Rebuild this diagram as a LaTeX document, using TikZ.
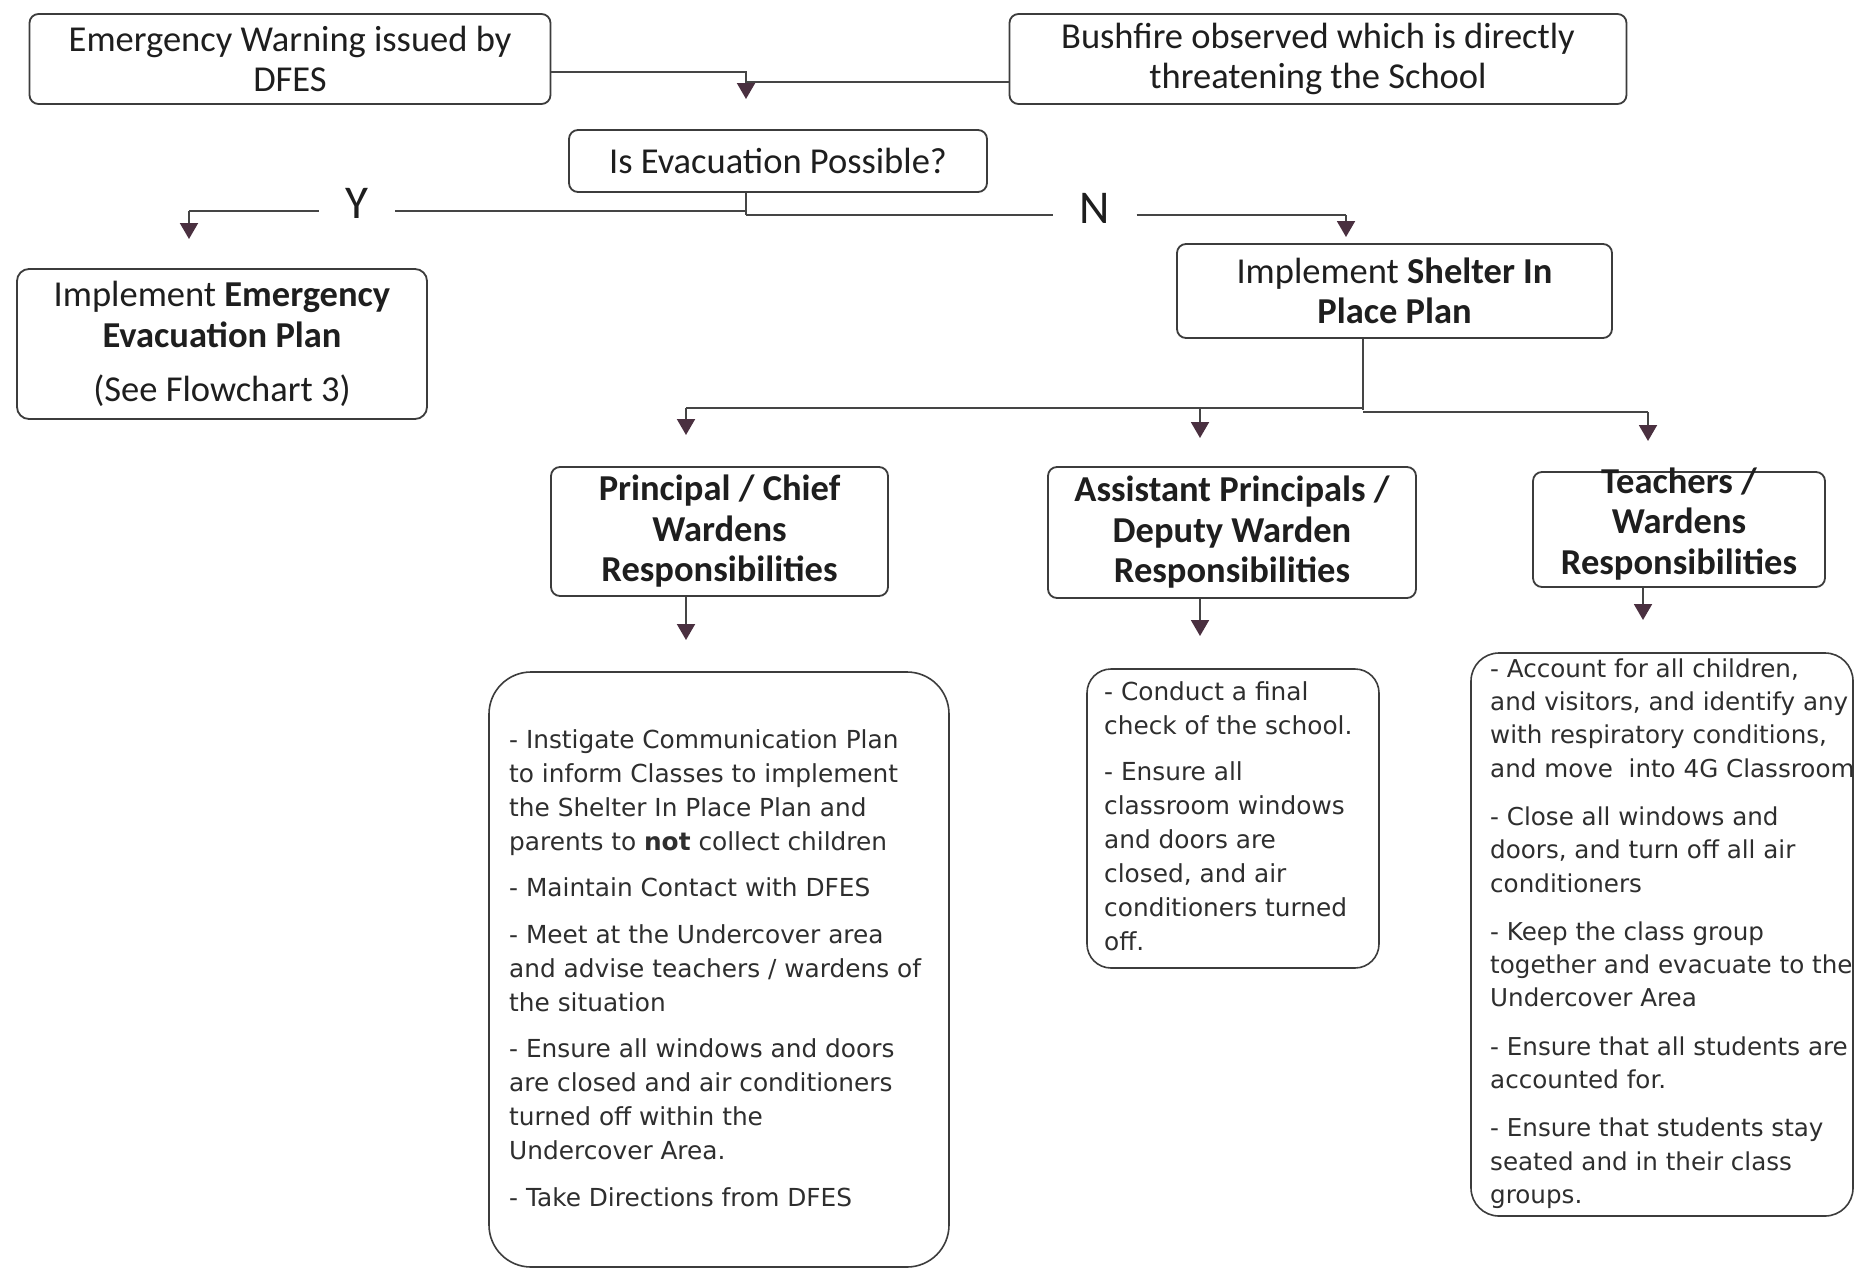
\documentclass[tikz,border=0pt]{standalone}
\usepackage{fontspec}
\setmainfont{Carlito}
\newfontfamily\bodyfont{DejaVu Sans}
\usetikzlibrary{arrows.meta}
\definecolor{boxc}{HTML}{3C3C3C}
\definecolor{linec}{HTML}{454545}
\definecolor{tipc}{HTML}{4A3040}
\definecolor{txtc}{HTML}{1E1E1E}
\definecolor{bodyc}{HTML}{2E2E2E}
\begin{document}
\begin{tikzpicture}[x=1pt,y=-1pt,
  box/.style={draw=boxc, line width=1.8pt, rounded corners=9pt, inner sep=0pt, align=center, text=txtc},
  tfont/.style={font=\fontsize{36.5}{40.5}\selectfont},
  hfont/.style={font=\bfseries\fontsize{36.5}{40.5}\selectfont},
  bodybox/.style={draw=boxc, line width=1.6pt, inner sep=0pt},
  btext/.style={inner sep=0pt, align=left, anchor=north west, text=bodyc, font=\bodyfont\fontsize{24.8}{34}\selectfont},
  btextk/.style={btext, font=\bodyfont\fontsize{24.6}{33.3}\selectfont},
  yn/.style={font=\fontsize{47}{50}\selectfont, inner sep=0pt, text=txtc},
  conn/.style={draw=linec, line width=2pt},
  arr/.style={conn, -{Triangle[width=18pt,length=16pt,color=tipc]}}
]
\useasboundingbox[fill=white] (0,0) rectangle (1856,1269);

% top boxes
\node[box, tfont, minimum width=521pt, minimum height=90pt] (A) at (290,59)
  {Emergency Warning issued by\\DFES};
\node[box, tfont, minimum width=617pt, minimum height=90pt] (B) at (1318,59)
  {Bushfire observed which is directly\\threatening the School};
\node[box, tfont, minimum width=418pt, minimum height=62pt] (C) at (778,161)
  {Is Evacuation Possible?};
\node[box, tfont, minimum width=435pt, minimum height=94pt] (D) at (1394.5,291)
  {Implement \textbf{Shelter In}\\\textbf{Place Plan}};
\node[box, tfont, minimum width=410pt, minimum height=150pt, rounded corners=12pt] (E) at (222,344)
  {Implement \textbf{Emergency}\\\textbf{Evacuation Plan}\\[14pt](See Flowchart 3)};

% role boxes
\node[box, hfont, minimum width=337pt, minimum height=129pt] (F) at (719.5,531.5)
  {Principal / Chief\\Wardens\\Responsibilities};
\node[box, hfont, minimum width=368pt, minimum height=131pt] (G) at (1232,532.5)
  {Assistant Principals /\\Deputy Warden\\Responsibilities};
\node[box, minimum width=292pt, minimum height=115pt] (H) at (1679,529.5) {};
\node[hfont, align=center, inner sep=0pt, text=txtc] (Ht) at (1679,524)
  {Teachers /\\Wardens\\Responsibilities};

% Y / N labels
\node[yn, minimum width=76pt] (Y) at (357,203) {Y};
\node[yn, minimum width=83pt] (N) at (1095,208) {N};

% body boxes
\node[bodybox, minimum width=460pt, minimum height=595pt, rounded corners=42pt] (I) at (719,969.5) {};
\node[bodybox, minimum width=292pt, minimum height=299pt, rounded corners=24pt] (J) at (1233,818.5) {};
\node[bodybox, minimum width=382pt, minimum height=563pt, rounded corners=28pt] (K) at (1662,934.5) {};

\node[btext] (It) at (509,728) {\rule{0pt}{20pt}- Instigate Communication Plan\\
to inform Classes to implement\\
the Shelter In Place Plan and\\
parents to \textbf{not} collect children\\[12.5pt]
- Maintain Contact with DFES\\[12.5pt]
- Meet at the Undercover area\\
and advise teachers / wardens of\\
the situation\\[12.5pt]
- Ensure all windows and doors\\
are closed and air conditioners\\
turned off within the\\
Undercover Area.\\[12.5pt]
- Take Directions from DFES};

\node[btext] (Jt) at (1104,680) {\rule{0pt}{20pt}- Conduct a final\\
check of the school.\\[12pt]
- Ensure all\\
classroom windows\\
and doors are\\
closed, and air\\
conditioners turned\\
off.};

\node[btextk] (Kt) at (1490,657) {\rule{0pt}{20pt}- Account for all children,\\
and visitors, and identify any\\
with respiratory conditions,\\
and move\ \ into 4G Classroom\\[15pt]
- Close all windows and\\
doors, and turn off all air\\
conditioners\\[15pt]
- Keep the class group\\
together and evacuate to the\\
Undercover Area\\[15pt]
- Ensure that all students are\\
accounted for.\\[15pt]
- Ensure that students stay\\
seated and in their class\\
groups.};

% connectors: top merge
\coordinate (jA) at (746,72);
\coordinate (jB) at (746,82);
\coordinate (jC) at (746,99);
\draw[conn] (A.east |- jA) -- (jA) -- (jB);
\draw[conn] (B.west |- jB) -- (jB);
\draw[arr] (jB) -- (jC);

% decision
\coordinate (cY) at (746,211);
\coordinate (cN) at (746,215);
\coordinate (yL) at (189,211);
\coordinate (yE) at (189,239);
\coordinate (nR) at (1346,215);
\coordinate (nE) at (1346,237);
\draw[conn] (C.south -| cY) -- (cN);
\draw[conn] (cY) -- (Y.east |- cY);
\draw[conn] (Y.west |- cY) -- (yL);
\draw[arr] (yL) -- (yE);
\draw[conn] (cN) -- (N.west |- cN);
\draw[conn] (N.east |- cN) -- (nR);
\draw[arr] (nR) -- (nE);

% shelter in place branches
\coordinate (dJ) at (1363,410);
\coordinate (dL) at (686,408);
\coordinate (dM) at (1200,408);
\coordinate (dR) at (1648,412);
\coordinate (dLe) at (686,435);
\coordinate (dMe) at (1200,438);
\coordinate (dRe) at (1648,441);
\draw[conn] (D.south -| dJ) -- (dJ);
\draw[conn] (dJ |- dL) -- (dL);
\draw[conn] (dJ |- dR) -- (dR);
\draw[arr] (dL) -- (dLe);
\draw[arr] (dM) -- (dMe);
\draw[arr] (dR) -- (dRe);

% role to body arrows
\coordinate (fE) at (686,640);
\coordinate (gE) at (1200,636);
\coordinate (hE) at (1643,620);
\draw[arr] (F.south -| fE) -- (fE);
\draw[arr] (G.south -| gE) -- (gE);
\draw[arr] (H.south -| hE) -- (hE);
\end{tikzpicture}
\end{document}
